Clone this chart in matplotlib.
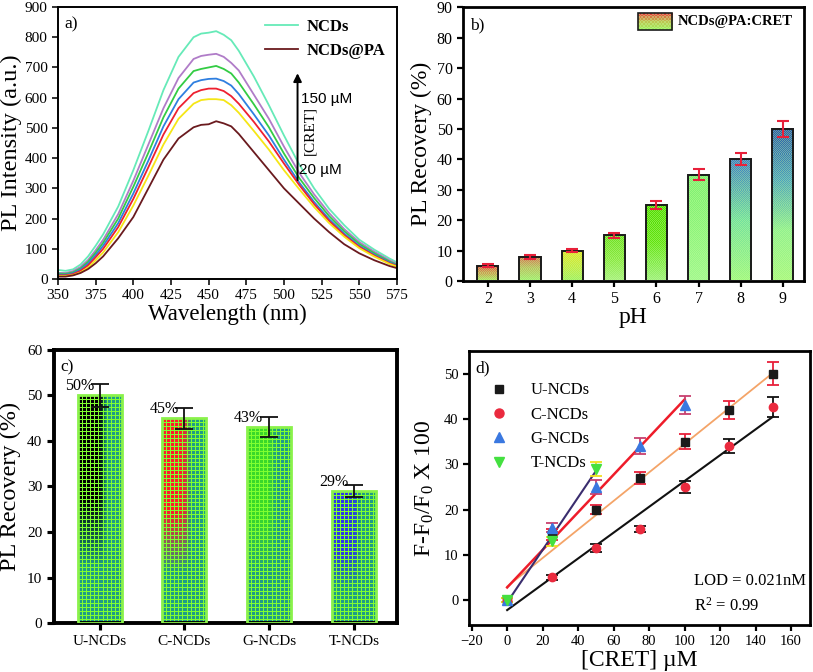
import matplotlib
matplotlib.use("Agg")
import matplotlib.pyplot as plt
import numpy as np
from matplotlib.colors import to_rgb
from matplotlib.lines import Line2D

plt.rcParams.update({
    "font.family": "serif",
    "font.serif": ["Liberation Serif", "DejaVu Serif"],
    "mathtext.fontset": "custom",
    "mathtext.rm": "Liberation Serif",
    "mathtext.it": "Liberation Serif:italic",
})

# ---- a) PL spectra vs [CRET] ----
wavelength = [350, 355, 360, 365, 370, 375, 380, 390, 400, 410, 420, 430, 440, 445, 450,
              455, 460, 465, 470, 480, 490, 500, 510, 520, 530, 540, 550, 560, 570, 575]
pl_ncds = [30, 27, 32, 48, 75, 110, 148, 240, 360, 490, 625, 735, 800, 812, 815,
           820, 808, 790, 755, 670, 575, 475, 380, 300, 232, 178, 130, 97, 68, 55]
pl_150 = [20, 20, 26, 40, 63, 95, 130, 215, 325, 445, 565, 665, 728, 738, 742,
          745, 735, 715, 690, 610, 530, 438, 352, 280, 218, 165, 122, 90, 62, 50]
pl_125 = [18, 17, 22, 35, 57, 87, 120, 200, 305, 418, 535, 630, 688, 695, 700,
          705, 695, 680, 650, 578, 502, 415, 335, 268, 208, 158, 116, 85, 58, 47]
pl_100 = [15, 14, 19, 31, 51, 79, 110, 185, 283, 392, 505, 595, 650, 658, 662,
          663, 655, 640, 612, 545, 475, 395, 320, 255, 198, 150, 110, 80, 55, 45]
pl_60 = [12, 12, 16, 27, 45, 72, 100, 172, 265, 370, 478, 565, 615, 625, 630,
         630, 622, 605, 580, 520, 455, 382, 312, 248, 192, 145, 106, 77, 52, 43]
pl_20 = [10, 10, 13, 22, 38, 62, 88, 155, 243, 342, 445, 530, 580, 592, 595,
         595, 592, 575, 550, 490, 428, 360, 298, 238, 185, 140, 102, 74, 50, 41]
pl_ncds_pa = [8, 8, 12, 20, 33, 52, 75, 135, 205, 300, 395, 465, 502, 510, 512,
              522, 515, 505, 480, 420, 360, 300, 250, 200, 155, 115, 85, 62, 43, 36]
spectra = [pl_ncds, pl_150, pl_125, pl_100, pl_60, pl_20, pl_ncds_pa]
spectra_labels = ["NCDs", None, None, None, None, None, "NCDs@PA"]
spectra_colors = ["#66eab8", "#b07cc8", "#33cc44", "#2f7fe0", "#ee2030", "#f5e616", "#6a1a1e"]

# ---- b) recovery vs pH ----
ph = [2, 3, 4, 5, 6, 7, 8, 9]
ph_recovery = [5, 8, 10, 15, 25, 35, 40, 50]
ph_err = [0.5, 0.6, 0.6, 0.9, 1.3, 1.8, 2.0, 2.6]
ph_bar_stops = [
    ["#e8403c", "#c8a050", "#a8ea66"],
    ["#d86a50", "#b8c060", "#a0ee70"],
    ["#e6e422", "#c8ea40", "#a0f060"],
    ["#6ce020", "#88e840", "#a8f080"],
    ["#50dc00", "#62e410", "#a0f080"],
    ["#7cf070", "#8cf47c", "#a0f890"],
    ["#3a78c8", "#70e0a0", "#a0f880"],
    ["#2858a8", "#4aa0c0", "#90f090", "#a8f880"],
]

# ---- c) recovery for NCD types ----
ncd_types = ["U-NCDs", "C-NCDs", "G-NCDs", "T-NCDs"]
type_recovery = [50, 45, 43, 29]
type_err = [2.5, 2.3, 2.2, 1.4]
type_tints = ["#000000", "#ff1a2a", "#3ad82a", "#2a3ae6"]

# ---- d) calibration ----
u_x = [0, 25, 50, 75, 100, 125, 150]
u_y = [0, 14.5, 20, 27, 35, 42, 50]
u_err = [0.4, 1.2, 1.0, 1.3, 1.6, 2.0, 2.5]
c_x = [0, 25, 50, 75, 100, 125, 150]
c_y = [0, 5, 11.5, 15.7, 25, 34, 42.7]
c_err = [0.4, 0.6, 0.8, 0.7, 1.3, 1.6, 2.2]
g_x = [0, 25, 50, 75, 100]
g_y = [0, 16, 25, 34, 43]
g_err = [0.4, 1.0, 1.5, 1.8, 2.0]
t_x = [0, 25, 50]
t_y = [0, 13, 29]
t_err = [0.4, 1.0, 1.5]
# linear fits: (intercept, slope, x_end)
u_fit = (3.0, 0.315, 150)
c_fit = (-2.2, 0.285, 150)
g_fit = (2.8, 0.415, 100)
t_fit = (-0.5, 0.58, 50)


def gradient_texture(stops, rows, cols):
    t = np.linspace(0, 1, rows)
    pos = np.linspace(0, 1, len(stops))
    rgb = np.array([to_rgb(c) for c in stops])
    col = np.stack([np.interp(t, pos, rgb[:, k]) for k in range(3)], axis=-1)
    img = np.repeat(col[:, None, :], cols, axis=1)
    ii, jj = np.indices((rows, cols))
    speck = (ii + jj) % 2 == 0
    light = np.array(to_rgb("#c8ff9a"))
    img[speck] = img[speck] * 0.6 + light * 0.4
    return img


def dot_texture(tint, rows, cols, cell=4):
    base = np.array(to_rgb("#80ff30"))
    teal = np.array(to_rgb("#1f9c86"))
    tint = np.array(to_rgb(tint))
    H, W = rows * cell, cols * cell
    img = np.tile(base, (H, W, 1))
    yy, xx = np.indices((H, W))
    cy, cx = yy % cell, xx % cell
    dot = (cy >= 1) & (cx >= 1)
    xf = xx / W
    yf = 1 - yy / H
    w = np.clip((0.62 - xf) / 0.15, 0, 1) * np.clip((yf - 0.25) / 0.3, 0, 1)
    col = teal * (1 - w[..., None]) + tint * w[..., None]
    img[dot] = col[dot]
    return img


def style_axes(ax, lw, ticksize, tick_len=4):
    for s in ax.spines.values():
        s.set_linewidth(lw)
    ax.tick_params(direction="out", width=lw * 0.8, length=tick_len, labelsize=ticksize)


fig = plt.figure(figsize=(8.13, 6.72), dpi=100)
ax_a = fig.add_axes([0.0713, 0.5848, 0.4170, 0.4048])
ax_b = fig.add_axes([0.5695, 0.5818, 0.4194, 0.4073])
ax_c = fig.add_axes([0.0664, 0.0729, 0.4219, 0.4063])
ax_d = fig.add_axes([0.5769, 0.0699, 0.4194, 0.4077])

# ---- panel a ----
for ys, lab, col in zip(spectra, spectra_labels, spectra_colors):
    ax_a.plot(wavelength, ys, color=col, lw=1.3, label=lab)
ax_a.set_xlim(350, 575)
ax_a.set_ylim(0, 900)
ax_a.set_xticks(range(350, 576, 25))
ax_a.set_yticks(range(0, 901, 100))
ax_a.set_xlabel("Wavelength (nm)", fontsize=16.5, labelpad=1)
ax_a.set_ylabel("PL Intensity (a.u.)", fontsize=17.5, labelpad=2)
style_axes(ax_a, 1.4, 11)
h, l = ax_a.get_legend_handles_labels()
ax_a.legend(h, l, loc="upper right", frameon=False, handlelength=2.0, handletextpad=0.5,
            prop={"weight": "bold", "size": 12}, borderaxespad=0.3, labelspacing=0.5)
ax_a.annotate("", xy=(509, 690), xytext=(509, 318),
              arrowprops=dict(arrowstyle="-|>", color="black", lw=1.4, mutation_scale=12))
ax_a.text(511, 595, "150 \u00b5M", family="Liberation Sans", fontsize=11, va="center")
ax_a.text(510, 362, "20 \u00b5M", family="Liberation Sans", fontsize=11, va="center")
ax_a.text(517, 490, "[CRET]", fontsize=11, rotation=90, ha="center", va="center")
ax_a.text(0.02, 0.965, "a)", transform=ax_a.transAxes, fontsize=12.5, va="top")

# ---- panel b ----
bw = 0.5
for x, v, stops in zip(ph, ph_recovery, ph_bar_stops):
    img = gradient_texture(stops, max(int(v * 3.0), 4), 22)
    ax_b.imshow(img, extent=[x - bw / 2, x + bw / 2, 0, v], aspect="auto",
                interpolation="nearest", zorder=2)
ax_b.bar(ph, ph_recovery, width=bw, fill=False, edgecolor="#1a1a1a", lw=1.4, zorder=3)
ax_b.errorbar(ph, ph_recovery, yerr=ph_err, fmt="none", ecolor="#e8203a",
              capsize=4.5, elinewidth=1.5, capthick=1.5, zorder=4)
ax_b.set_xticks(ph)
ax_b.set_yticks(range(0, 91, 10))
ax_b.set_xlabel("pH", fontsize=17, labelpad=0)
ax_b.set_ylabel("PL Recovery (%)", fontsize=17, labelpad=3)
style_axes(ax_b, 2.0, 11.5)
leg_img = gradient_texture(["#e8403c", "#c0c050", "#a0f060"], 10, 20)
ax_b.imshow(leg_img, extent=[0.513, 0.613, 0.917, 0.979], transform=ax_b.transAxes,
            aspect="auto", interpolation="nearest", zorder=5)
ax_b.add_patch(plt.Rectangle((0.513, 0.917), 0.1, 0.062, transform=ax_b.transAxes,
                             fill=False, edgecolor="#1a1a1a", lw=1.2, zorder=6))
ax_b.text(0.63, 0.947, "NCDs@PA:CRET", transform=ax_b.transAxes, fontsize=10.5,
          fontweight="bold", va="center")
ax_b.text(0.02, 0.965, "b)", transform=ax_b.transAxes, fontsize=12.5, va="top")
ax_b.set_xlim(1.41, 9.5)
ax_b.set_ylim(0, 90)

# ---- panel c ----
cw = 0.52
cx = np.arange(len(ncd_types))
for x, v, tint in zip(cx, type_recovery, type_tints):
    img = dot_texture(tint, int(round(v * 273 / 60 / 4)), 11)
    ax_c.imshow(img, extent=[x - cw / 2, x + cw / 2, 0, v], aspect="auto",
                interpolation="nearest", zorder=2)
ax_c.bar(cx, type_recovery, width=cw, fill=False, edgecolor="#8af24a", lw=2, zorder=3)
ax_c.errorbar(cx, type_recovery, yerr=type_err, fmt="none", ecolor="#111111",
              capsize=6.5, elinewidth=1.3, capthick=1.3, zorder=4)
for x, v in zip(cx, type_recovery):
    ax_c.text(x - 0.24, v + 2.0, f"{v}%", fontsize=11.5, ha="center", va="center", zorder=5)
ax_c.set_xlim(-0.54, 3.51)
ax_c.set_ylim(0, 60)
ax_c.set_xticks(cx)
ax_c.set_xticklabels(ncd_types)
ax_c.set_yticks(range(0, 61, 10))
ax_c.set_ylabel("PL Recovery (%)", fontsize=17.5, labelpad=4)
style_axes(ax_c, 2.8, 11, tick_len=5)
ax_c.text(0.02, 0.965, "c)", transform=ax_c.transAxes, fontsize=12.5, va="top")

# ---- panel d ----
for fit, col, lw in [(u_fit, "#f4a468", 1.3), (c_fit, "#111111", 1.5),
                     (g_fit, "#ee1c2a", 1.8), (t_fit, "#3a2d6e", 1.5)]:
    a0, b0, xe = fit
    ax_d.plot([0, xe], [a0, a0 + b0 * xe], color=col, lw=lw, zorder=3)
ax_d.errorbar(u_x, u_y, yerr=u_err, fmt="s", color="#1a1a1a", ecolor="#e8203a",
              ms=5.5, capsize=4, elinewidth=1.3, capthick=1.3, zorder=4)
ax_d.errorbar(c_x, c_y, yerr=c_err, fmt="o", color="#ea2a3e", ecolor="#111111",
              ms=6, capsize=4, elinewidth=1.3, capthick=1.3, zorder=4)
ax_d.errorbar(g_x, g_y, yerr=g_err, fmt="^", color="#3a78e0", ecolor="#c8406e",
              ms=6.5, capsize=4, elinewidth=1.3, capthick=1.3, zorder=4)
ax_d.errorbar(t_x, t_y, yerr=t_err, fmt="v", color="#44e040", ecolor="#f0e020",
              ms=6.5, capsize=4, elinewidth=1.3, capthick=1.3, zorder=4)
ax_d.set_xlim(-21.5, 170.7)
ax_d.set_ylim(-5.5, 55)
ax_d.set_xticks(range(-20, 161, 20))
ax_d.set_yticks(range(0, 51, 10))
ax_d.set_xlabel("[CRET] \u00b5M", fontsize=17, labelpad=1)
ax_d.set_ylabel("F-F$_0$/F$_0$ X 100", fontsize=17, labelpad=6)
style_axes(ax_d, 2.0, 10.5)
handles = [
    Line2D([], [], ls="none", marker="s", color="#1a1a1a", ms=5.5),
    Line2D([], [], ls="none", marker="o", color="#ea2a3e", ms=6.5),
    Line2D([], [], ls="none", marker="^", color="#3a78e0", ms=7),
    Line2D([], [], ls="none", marker="v", color="#44e040", ms=7),
]
ax_d.legend(handles, ["U-NCDs", "C-NCDs", "G-NCDs", "T-NCDs"], loc="upper left",
            bbox_to_anchor=(0.02, 0.91), frameon=False, fontsize=12,
            labelspacing=0.5, handletextpad=0.9, borderaxespad=0)
ax_d.text(0.66, 0.16, "LOD = 0.021nM", transform=ax_d.transAxes, fontsize=12, va="center")
ax_d.text(0.66, 0.07, "R$^2$ = 0.99", transform=ax_d.transAxes, fontsize=12, va="center")
ax_d.text(0.02, 0.965, "d)", transform=ax_d.transAxes, fontsize=12.5, va="top")

fig.savefig("out.png", dpi=100)
